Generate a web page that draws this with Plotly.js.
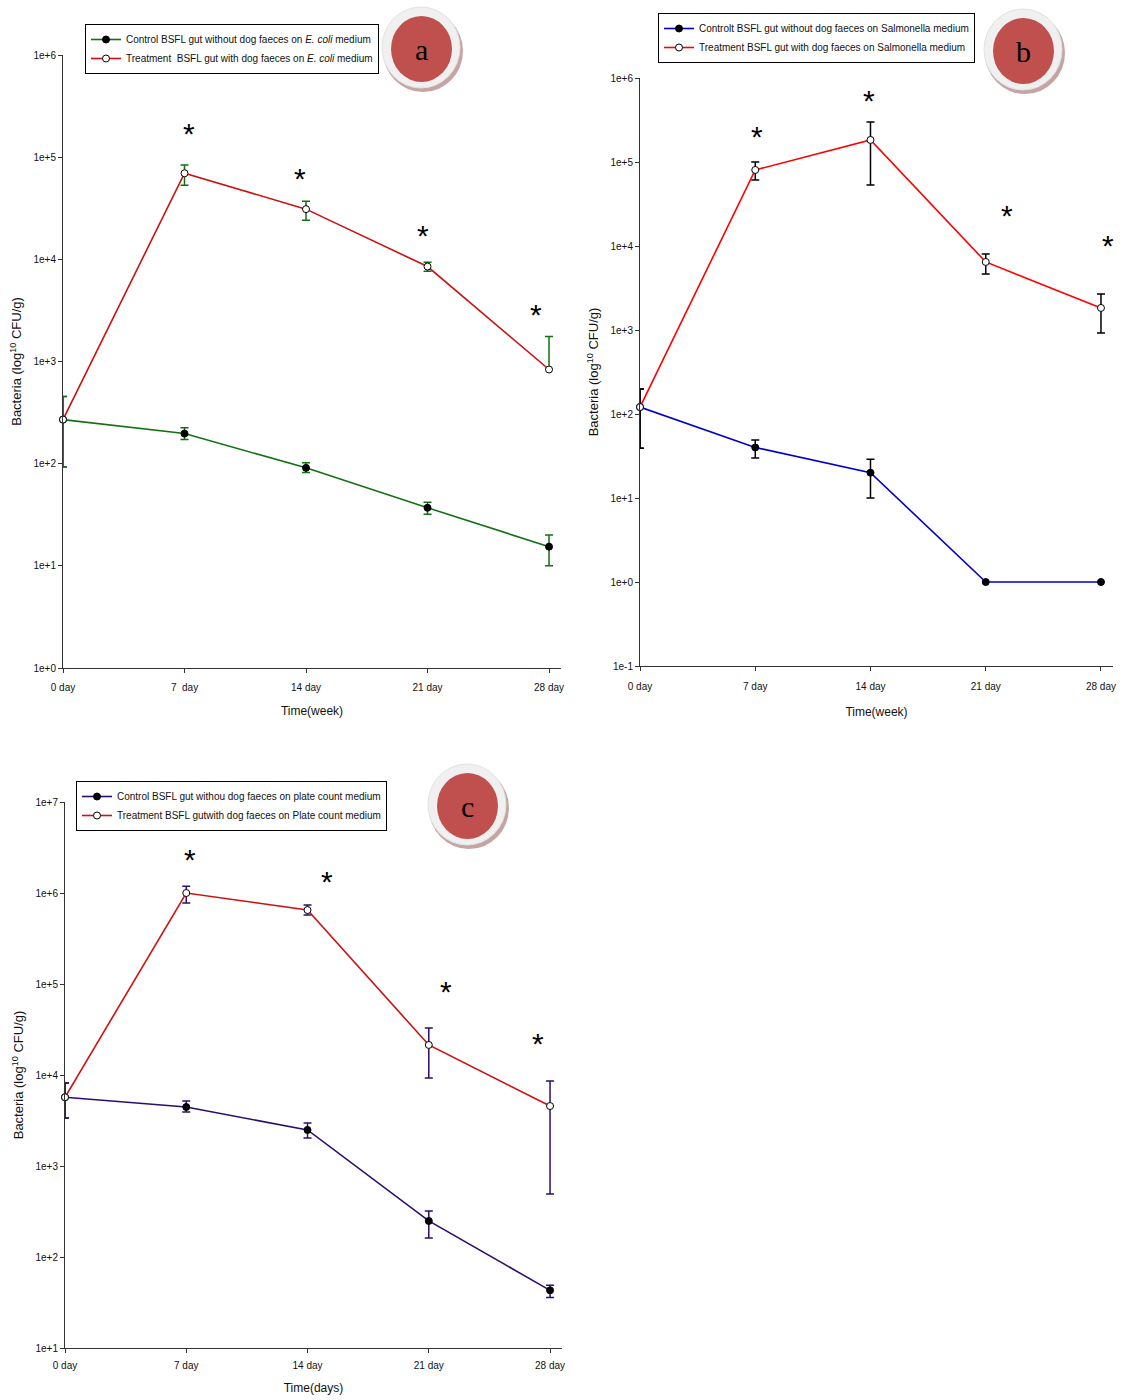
<!DOCTYPE html>
<html>
<head>
<meta charset="utf-8">
<script src="https://cdn.plot.ly/plotly-3.0.1.min.js"></script>
<style>html,body{margin:0;padding:0;background:#fff;}#chart{width:1123px;height:1400px;}</style>
</head>
<body>
<div id="chart"></div>
<script>
// ---------- data ----------
const days = [0, 7, 14, 21, 28];
const dayLabelsA = ["0 day", "7\u00a0 day", "14 day", "21 day", "28 day"];
const dayLabels = ["0 day", "7 day", "14 day", "21 day", "28 day"];

// Panel a : E. coli medium
const aControl      = [270, 197, 91, 37, 15.4];
const aControlUp    = [454, 225, 102, 42, 20];
const aControlLo    = [93, 172, 82, 32, 10];
const aTreat        = [270, 69600, 31000, 8500, 835];
const aTreatUp      = [454, 83600, 37000, 9350, 1760];
const aTreatLo      = [93, 53100, 24100, 7630, 835];
const aStarDays     = [7.26, 13.65, 20.74, 27.25];
const aStarVals     = [1.84e5, 6.67e4, 1.84e4, 3.09e3];

// Panel b : Salmonella medium
const bControl      = [121, 40, 20, 1, 1];
const bControlUp    = [199, 49, 29, null, null];
const bControlLo    = [39, 30, 10, null, null];
const bTreat        = [121, 80400, 183000, 6460, 1830];
const bTreatUp      = [199, 100000, 299000, 8040, 2680];
const bTreatLo      = [39, 61100, 53200, 4640, 920];
const bStarDays     = [7.11, 13.92, 22.3, 28.43];
const bStarVals     = [2.2e5, 5.9e5, 2.5e4, 1.09e4];

// Panel c : plate count medium
const cControl      = [5700, 4450, 2490, 249, 43];
const cControlUp    = [8170, 5180, 2970, 320, 49];
const cControlLo    = [3370, 3920, 2030, 162, 36];
const cTreat        = [5700, 1000000, 650000, 21400, 4560];
const cTreatUp      = [8170, 1190000, 738000, 32800, 8590];
const cTreatLo      = [3370, 776000, 573000, 9270, 492];
const cStarDays     = [7.22, 15.13, 22.0, 27.31];
const cStarVals     = [2.5e6, 1.43e6, 9.0e4, 2.4e4];

const yTicksA = [1, 10, 100, 1000, 10000, 100000, 1000000];
const yTickTextA = ["1e+0", "1e+1", "1e+2", "1e+3", "1e+4", "1e+5", "1e+6"];
const yTicksB = [0.1, 1, 10, 100, 1000, 10000, 100000, 1000000];
const yTickTextB = ["1e-1", "1e+0", "1e+1", "1e+2", "1e+3", "1e+4", "1e+5", "1e+6"];
const yTicksC = [10, 100, 1000, 10000, 100000, 1000000, 10000000];
const yTickTextC = ["1e+1", "1e+2", "1e+3", "1e+4", "1e+5", "1e+6", "1e+7"];

// ---------- helpers ----------
const W = 1123, H = 1400;
const px = v => v / W;
const py = v => 1 - v / H;
const NARROW = "Liberation Sans Narrow, Arial Narrow, Liberation Sans, Arial, sans-serif";
const SANS = "Liberation Sans, Arial, sans-serif";

function errObj(vals, up, lo, color) {
  return {
    type: "data", symmetric: false, visible: true,
    array: vals.map((v, i) => up[i] == null ? NaN : up[i] - v),
    arrayminus: vals.map((v, i) => lo[i] == null ? NaN : v - lo[i]),
    color: color, thickness: 1.5, width: 4
  };
}
function series(name, vals, up, lo, lineColor, errColor, filled, xa, ya, legend) {
  return {
    type: "scatter", mode: "lines+markers", name: name,
    x: days, y: vals, xaxis: xa, yaxis: ya, legend: legend,
    line: { color: lineColor, width: 1.6 },
    marker: { size: 7, symbol: "circle", color: filled ? "#000" : "#fff",
              line: { color: "#000", width: 1 } },
    error_y: errObj(vals, up, lo, errColor),
    cliponaxis: false
  };
}

const greenA = "#127012", redA = "#cc1111";
const blueB = "#0000c8", redB = "#ff0000";
const indigoC = "#2e0d6e", redC = "#cc1111";

const traces = [
  series("Control BSFL gut without dog faeces on <i>E. coli</i> medium", aControl, aControlUp, aControlLo, greenA, greenA, true, "x", "y", "legend"),
  series("Treatment  BSFL gut with dog faeces on <i>E. coli</i> medium", aTreat, aTreatUp, aTreatLo, redA, greenA, false, "x", "y", "legend"),
  series("Controlt BSFL gut without dog faeces on Salmonella medium", bControl, bControlUp, bControlLo, blueB, "#000", true, "x2", "y2", "legend2"),
  series("Treatment BSFL gut with dog faeces on Salmonella medium", bTreat, bTreatUp, bTreatLo, redB, "#000", false, "x2", "y2", "legend2"),
  series("Control BSFL gut withou dog faeces on plate count medium", cControl, cControlUp, cControlLo, indigoC, indigoC, true, "x3", "y3", "legend3"),
  series("Treatment BSFL gutwith dog faeces on Plate count medium", cTreat, cTreatUp, cTreatLo, redC, indigoC, false, "x3", "y3", "legend3")
];

function xAxis(domain, range, anchor, labels, title, lblOff, titleOff) {
  return {
    domain: domain, range: range, anchor: anchor, type: "linear",
    tickmode: "array", tickvals: days, ticktext: labels,
    showline: true, linecolor: "#333", linewidth: 1,
    ticks: "outside", ticklen: 4, tickcolor: "#333", tickwidth: 1,
    ticklabelstandoff: lblOff,
    showgrid: false, zeroline: false,
    tickfont: { family: NARROW, size: 10, color: "#111" },
    title: { text: title, font: { family: SANS, size: 12, color: "#111" }, standoff: titleOff }
  };
}
function yAxis(domain, range, anchor, vals, texts) {
  return {
    domain: domain, range: range, anchor: anchor, type: "log",
    tickmode: "array", tickvals: vals, ticktext: texts,
    showline: true, linecolor: "#333", linewidth: 1,
    ticks: "outside", ticklen: 4, tickcolor: "#333", tickwidth: 1,
    showgrid: false, zeroline: false,
    tickfont: { family: SANS, size: 10, color: "#111" },
    title: { text: "Bacteria (log<sup>10</sup> CFU/g)", font: { family: SANS, size: 13, color: "#111" }, standoff: 8 }
  };
}

function legendObj(x, y) {
  return {
    x: x, y: y, xanchor: "left", yanchor: "top", xref: "paper", yref: "paper",
    bgcolor: "#fff", bordercolor: "#000", borderwidth: 1,
    font: { family: NARROW, size: 10, color: "#111" },
    itemwidth: 30, tracegroupgap: 0, traceorder: "normal"
  };
}

// badges
const shapes = [];
const annotations = [];
function badge(cx, cy, letter) {
  shapes.push({ type: "circle", xref: "paper", yref: "paper", layer: "above",
    x0: px(cx - 38), x1: px(cx + 42), y0: py(cy + 44), y1: py(cy - 38),
    fillcolor: "#c6a4a4", line: { width: 0 } });
  shapes.push({ type: "circle", xref: "paper", yref: "paper", layer: "above",
    x0: px(cx - 39), x1: px(cx + 39), y0: py(cy + 40), y1: py(cy - 41),
    fillcolor: "#f1f0f0", line: { color: "#e2e2e2", width: 1 } });
  shapes.push({ type: "circle", xref: "paper", yref: "paper", layer: "above",
    x0: px(cx - 30), x1: px(cx + 31), y0: py(cy + 34), y1: py(cy - 32),
    fillcolor: "#c0504d", line: { width: 0 } });
  annotations.push({ xref: "paper", yref: "paper", x: px(cx + 0.5), y: py(cy + 1),
    text: letter, showarrow: false, xanchor: "center", yanchor: "middle",
    font: { family: "Liberation Serif, DejaVu Serif, serif", size: 30, color: "#000" } });
}
badge(421, 48, "a");
badge(1023, 50, "b");
badge(467, 805, "c");

function stars(dArr, vArr, xa, ya) {
  dArr.forEach((d, i) => {
    annotations.push({ xref: xa, yref: ya, x: d, y: Math.log10(vArr[i]),
      text: "*", showarrow: false, xanchor: "center", yanchor: "middle", yshift: -3,
      font: { family: SANS, size: 30, color: "#000" } });
  });
}
stars(aStarDays, aStarVals, "x", "y");
stars(bStarDays, bStarVals, "x2", "y2");
stars(cStarDays, cStarVals, "x3", "y3");

const layout = {
  width: W, height: H,
  margin: { l: 0, r: 0, t: 0, b: 0 },
  paper_bgcolor: "#fff", plot_bgcolor: "rgba(0,0,0,0)",
  showlegend: true,
  font: { family: SANS, color: "#111" },
  xaxis:  xAxis([px(63), px(561)], [0, 28.69], "y", dayLabelsA, "Time(week)", 6, 14),
  yaxis:  yAxis([py(668), py(55)], [0, 6], "x", yTicksA, yTickTextA),
  xaxis2: xAxis([px(640), px(1113)], [0, 28.73], "y2", dayLabels, "Time(week)", 7, 16),
  yaxis2: yAxis([py(666), py(78)], [-1, 6], "x2", yTicksB, yTickTextB),
  xaxis3: xAxis([px(65), px(562)], [0, 28.69], "y3", dayLabels, "Time(days)", 4, 13),
  yaxis3: yAxis([py(1348), py(802)], [1, 7], "x3", yTicksC, yTickTextC),
  legend:  legendObj(px(85), py(24)),
  legend2: legendObj(px(658), py(13)),
  legend3: legendObj(px(76), py(781)),
  shapes: shapes,
  annotations: annotations
};

Plotly.newPlot("chart", traces, layout, { staticPlot: true, displayModeBar: false });
</script>
</body>
</html>
